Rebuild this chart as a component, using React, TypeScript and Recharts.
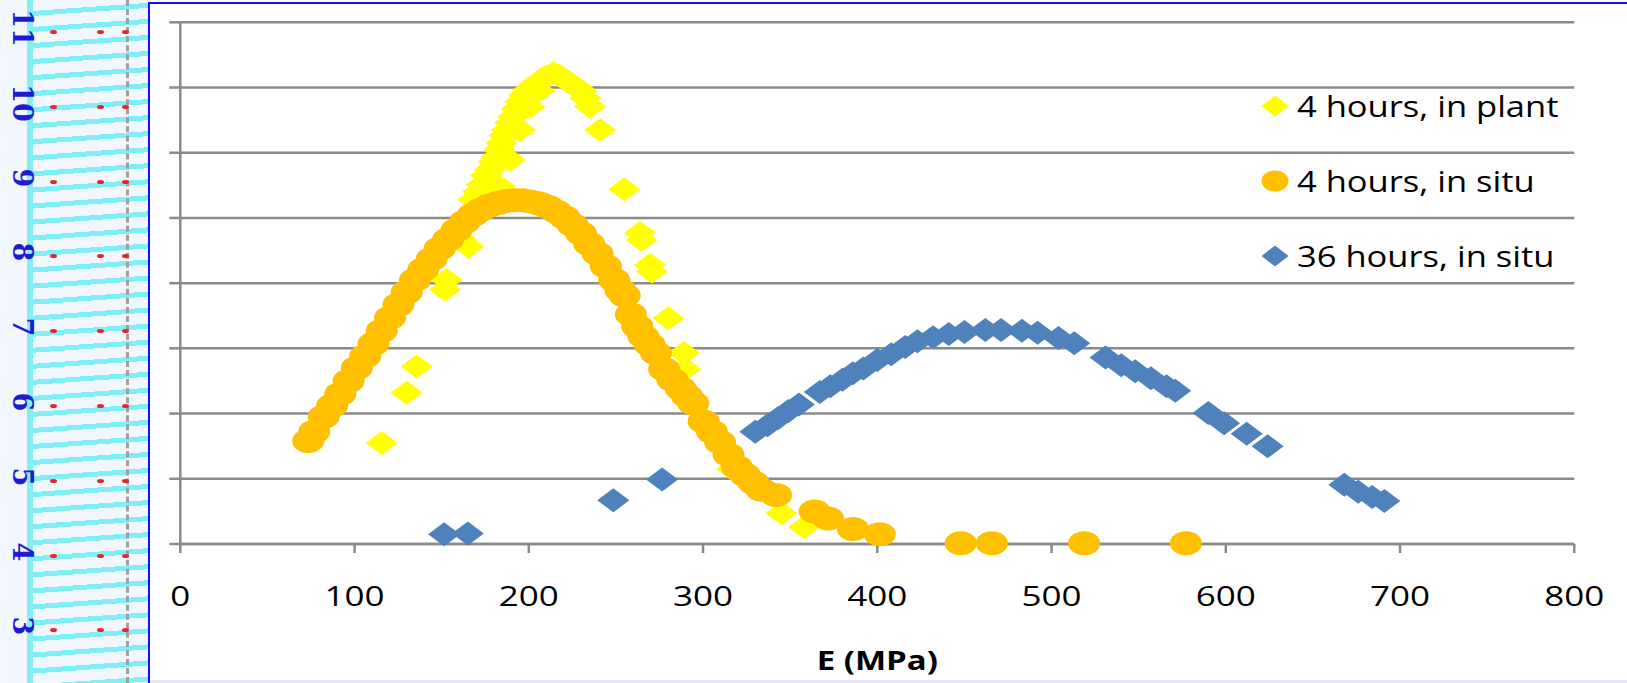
import React from "react";
import { ScatterChart, Scatter, XAxis, YAxis, CartesianGrid, Legend, Label } from "recharts";

// 4 hours, in plant
const plantE = [115.6, 129.9, 135.7, 151.9, 152.9, 161.5, 165.3, 168.1, 171.0, 173.0, 175.5, 177.7, 179.8, 181.6, 183.0, 183.5, 184.4, 186.0, 187.3, 189.2, 189.2, 191.1, 193.0, 195.0, 195.0, 197.2, 199.7, 200.5, 202.5, 205.5, 206.0, 208.0, 210.3, 214.1, 217.0, 219.8, 222.5, 225.5, 228.0, 230.4, 232.5, 235.1, 240.9, 254.8, 263.8, 264.8, 269.6, 270.6, 280.1, 289.0, 290.0, 316.7, 345.0, 358.0];
const plantF = [1.55, 2.32, 2.72, 3.90, 4.05, 4.66, 4.56, 5.28, 5.40, 5.51, 5.65, 5.74, 5.86, 5.94, 6.05, 5.48, 6.15, 6.26, 6.35, 6.46, 5.89, 6.55, 6.67, 6.78, 6.35, 6.88, 6.96, 6.70, 7.03, 7.09, 6.95, 7.14, 7.17, 7.22, 7.19, 7.14, 7.09, 7.04, 6.99, 6.94, 6.84, 6.71, 6.35, 5.44, 4.77, 4.66, 4.28, 4.18, 3.46, 2.93, 2.68, 1.15, 0.47, 0.26];

// 4 hours, in situ
const situ4E = [73.4, 76.9, 82.3, 87.1, 91.8, 96.6, 101.3, 106.1, 110.9, 115.6, 120.4, 125.1, 129.9, 134.7, 139.4, 144.2, 148.9, 153.7, 158.5, 163.3, 168.0, 172.8, 177.5, 182.3, 187.1, 191.8, 196.6, 201.4, 206.1, 210.9, 215.7, 220.4, 225.2, 230.0, 234.7, 239.5, 244.2, 249.0, 252.6, 255.0, 258.6, 262.2, 265.8, 269.3, 272.9, 277.7, 282.4, 287.2, 290.8, 294.4, 300.3, 305.1, 309.8, 314.6, 319.4, 324.1, 328.9, 333.6, 341.9, 364.0, 371.7, 386.0, 401.4, 447.9, 465.7, 518.7, 577.1];
const situ4F = [1.58, 1.72, 1.95, 2.12, 2.30, 2.50, 2.70, 2.88, 3.07, 3.27, 3.47, 3.67, 3.86, 4.05, 4.21, 4.37, 4.53, 4.67, 4.81, 4.94, 5.05, 5.13, 5.19, 5.23, 5.26, 5.27, 5.27, 5.25, 5.22, 5.17, 5.10, 5.01, 4.89, 4.76, 4.60, 4.45, 4.26, 4.05, 3.89, 3.81, 3.52, 3.34, 3.18, 3.06, 2.93, 2.68, 2.52, 2.38, 2.27, 2.16, 1.88, 1.72, 1.56, 1.37, 1.18, 1.06, 0.94, 0.83, 0.75, 0.50, 0.39, 0.23, 0.15, 0.01, 0.01, 0.01, 0.01];

// 36 hours, in situ
const situ36E = [151.4, 165.0, 248.5, 276.5, 330, 337, 343, 349, 355, 367, 373, 380, 386, 392, 400, 408, 416, 423, 432, 441, 450, 462, 471, 483, 492, 504, 513, 531, 540, 548, 557, 566, 571, 590, 599, 612, 624, 668, 676, 684, 691];
const situ36F = [0.15, 0.16, 0.67, 0.99, 1.72, 1.82, 1.93, 2.04, 2.14, 2.33, 2.42, 2.52, 2.62, 2.69, 2.82, 2.91, 3.02, 3.11, 3.17, 3.22, 3.25, 3.28, 3.28, 3.27, 3.24, 3.16, 3.08, 2.86, 2.74, 2.65, 2.54, 2.42, 2.35, 2.01, 1.85, 1.69, 1.50, 0.91, 0.80, 0.72, 0.66];

const xTicks = [0, 100, 200, 300, 400, 500, 600, 700, 800];
const yTicks = [0, 1, 2, 3, 4, 5, 6, 7, 8];
const stripLabels = [11, 10, 9, 8, 7, 6, 5, 4, 3];

const toPoints = (xs: number[], ys: number[]) => xs.map((E, i) => ({ E, y: ys[i] }));

const series = [
  { name: "4 hours, in plant", color: "#ffff00", kind: "diamond", data: toPoints(plantE, plantF) },
  { name: "4 hours, in situ", color: "#ffc000", kind: "circle", data: toPoints(situ4E, situ4F) },
  { name: "36 hours, in situ", color: "#4f81bd", kind: "diamond", data: toPoints(situ36E, situ36F) },
];

const GRID = "#8a8a8a";
const FONT = "'Open Sans', sans-serif";

function Marker({ cx, cy, kind, fill, w, h }: any) {
  if (kind === "circle") return <ellipse cx={cx} cy={cy} rx={w / 2} ry={h / 2} fill={fill} />;
  return (
    <polygon
      points={`${cx},${cy - h / 2} ${cx + w / 2},${cy} ${cx},${cy + h / 2} ${cx - w / 2},${cy}`}
      fill={fill}
    />
  );
}

function XTick({ x, y, payload }: any) {
  return (
    <g transform={`translate(${x},${y + 51}) scale(1.25,1)`}>
      <text textAnchor="middle" fontSize={28} fontFamily={FONT} fill="#000">
        {payload.value}
      </text>
    </g>
  );
}

const NoTick = () => <g />;

function LegendBox({ payload }: any) {
  const names = (payload ?? []).map((p: any) => p.value);
  return (
    <div style={{ fontFamily: FONT }}>
      {series
        .filter((s) => names.includes(s.name))
        .map((s) => (
          <div key={s.name} style={{ height: 75, display: "flex", alignItems: "center" }}>
            <svg width={34} height={24} style={{ flex: "none" }}>
              <Marker cx={17} cy={12} kind={s.kind} fill={s.color} w={27} h={21} />
            </svg>
            <span
              style={{
                marginLeft: 5,
                fontSize: 30,
                color: "#000",
                whiteSpace: "nowrap",
                display: "inline-block",
                transform: "scaleX(1.15)",
                transformOrigin: "left center",
              }}
            >
              {s.name}
            </span>
          </div>
        ))}
    </div>
  );
}

function Strip() {
  return (
    <div style={{ position: "absolute", left: 0, top: 0, width: 148, height: 683, background: "#f1f7fd", overflow: "hidden" }}>
      <div
        style={{
          position: "absolute",
          left: 31,
          top: 0,
          width: 117,
          height: 683,
          backgroundImage:
            "repeating-linear-gradient(176deg, rgba(255,255,255,0) 0px, rgba(255,255,255,0) 11px, #7eeff6 11px, #7eeff6 16px)",
        }}
      />
      <div style={{ position: "absolute", left: 27, top: 0, width: 6, height: 683, background: "#86eef5" }} />
      <div style={{ position: "absolute", left: 126, top: 0, height: 683, borderLeft: "3px dashed #a0a0a0" }} />
      {stripLabels.map((n, i) => (
        <React.Fragment key={n}>
          <span
            style={{
              position: "absolute",
              left: 22,
              top: 28 + i * 74.8,
              transform: "translate(-50%,-50%) rotate(90deg)",
              fontFamily: "'DejaVu Serif', serif",
              fontWeight: "bold",
              fontSize: 27,
              color: "#1c1cd4",
              lineHeight: 1,
            }}
          >
            {n}
          </span>
          {[53, 100, 125].map((dx) => (
            <span
              key={dx}
              style={{
                position: "absolute",
                left: dx - 3,
                top: 30 + i * 74.8,
                width: 7,
                height: 4,
                borderRadius: "50%",
                background: "#e3262b",
              }}
            />
          ))}
        </React.Fragment>
      ))}
    </div>
  );
}

export default function App() {
  return (
    <div style={{ position: "relative", width: 1627, height: 683, overflow: "hidden", background: "#ffffff" }}>
      <style>{"body{margin:0}"}</style>
      <Strip />
      <div
        style={{
          position: "absolute",
          left: 148,
          top: 2,
          width: 1600,
          height: 700,
          borderLeft: "2px solid #1010ff",
          borderTop: "2px solid #1010ff",
        }}
      />
      <div style={{ position: "absolute", left: 150, top: 680, width: 1477, height: 3, background: "#e6e6fa" }} />
      <div style={{ position: "absolute", left: 0, top: 0 }}>
        <ScatterChart width={1627} height={683} margin={{ top: 22.3, right: 52.7, left: 160.3, bottom: 19 }}>
          <CartesianGrid vertical={false} stroke={GRID} strokeWidth={2.5} />
          <XAxis
            type="number"
            dataKey="E"
            domain={[0, 800]}
            ticks={xTicks}
            height={120}
            axisLine={{ stroke: GRID, strokeWidth: 2.5 }}
            tickLine={{ stroke: GRID, strokeWidth: 2.5 }}
            tickSize={9}
            tick={<XTick />}
          >
            <Label
              content={(props: any) => {
                const vb = props.viewBox || {};
                return (
                  <g transform={`translate(${vb.x + vb.width / 2},${vb.y + 126}) scale(1.27,1)`}>
                    <text textAnchor="middle" fontSize={26} fontWeight="bold" fontFamily={FONT} fill="#000">
                      E (MPa)
                    </text>
                  </g>
                );
              }}
            />
          </XAxis>
          <YAxis
            type="number"
            dataKey="y"
            domain={[0, 8]}
            ticks={yTicks}
            width={20}
            tick={<NoTick />}
            tickSize={11}
            axisLine={{ stroke: GRID, strokeWidth: 2.5 }}
            tickLine={{ stroke: GRID, strokeWidth: 2.5 }}
          />
          <Legend
            layout="vertical"
            verticalAlign="middle"
            align="center"
            content={<LegendBox />}
            wrapperStyle={{ position: "absolute", left: 1258, top: 68, width: 360, height: 225 }}
          />
          {series.map((s) => (
            <Scatter
              key={s.name}
              name={s.name}
              data={s.data}
              fill={s.color}
              isAnimationActive={false}
              shape={(p: any) => <Marker cx={p.cx} cy={p.cy} kind={s.kind} fill={s.color} w={32} h={24} />}
            />
          ))}
        </ScatterChart>
      </div>
    </div>
  );
}
